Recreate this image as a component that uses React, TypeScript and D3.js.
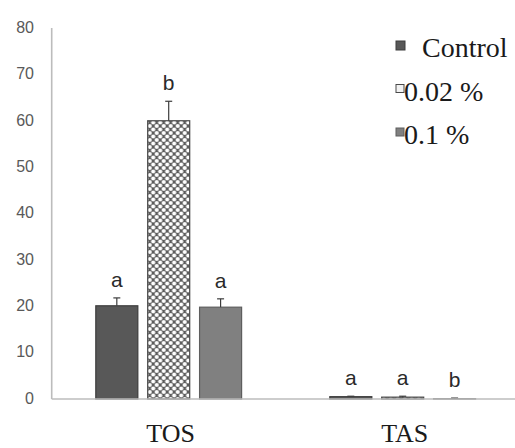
import * as d3 from 'd3';

const categories = ['TOS', 'TAS'];
const series = ['Control', '0.02 %', '0.1 %'];
const tosValues = [20.1, 60.0, 19.8];
const tosErrors = [1.7, 4.2, 1.8];
const tasValues = [0.5, 0.4, 0.05];
const tasErrors = [0.1, 0.2, 0.15];
const tosLetters = ['a', 'b', 'a'];
const tasLetters = ['a', 'a', 'b'];
const yTicks = [0, 10, 20, 30, 40, 50, 60, 70, 80];

const W = 515;
const H = 448;

const fills = ['#585858', 'url(#hatch)', '#808080'];
const strokes = ['#3c3c3c', '#4a4a4a', '#5e5e5e'];

const css = `
  .rm { font-family: 'Liberation Serif'; fill: #1a1a1a; }
  .ar { font-family: 'Liberation Sans'; }
`;

export default function App() {
  const y = d3.scaleLinear().domain([0, 80]).range([399, 28]);
  const x0 = d3.scaleBand<string>().domain(categories).range([51.7, 519.7]).padding(0);
  const x1 = d3.scaleBand<string>()
    .domain(series)
    .range([0, x0.bandwidth()])
    .paddingInner(0.19)
    .paddingOuter(0.85);

  const groups = [
    { cat: 'TOS', values: tosValues, errors: tosErrors, letters: tosLetters },
    { cat: 'TAS', values: tasValues, errors: tasErrors, letters: tasLetters },
  ];

  return (
    <div style={{ position: 'fixed', top: 0, left: 0 }}>
      <svg width={W} height={H} style={{ display: 'block', background: '#fff' }}>
        <style>{css}</style>
        <defs>
          <pattern id="hatch" patternUnits="userSpaceOnUse" width={7} height={7}>
            <rect width={7} height={7} fill="#5c5c5c" />
            <circle cx={0} cy={0} r={2.1} fill="#fff" />
            <circle cx={7} cy={0} r={2.1} fill="#fff" />
            <circle cx={0} cy={7} r={2.1} fill="#fff" />
            <circle cx={7} cy={7} r={2.1} fill="#fff" />
            <circle cx={3.5} cy={3.5} r={2.1} fill="#fff" />
          </pattern>
        </defs>

        {/* y axis ticks */}
        {yTicks.map((t) => (
          <text
            key={t}
            className="ar"
            x={34}
            y={y(t)}
            dy="0.3em"
            textAnchor="end"
            fontSize={16}
            fill="#595959"
          >
            {t}
          </text>
        ))}
        <line x1={51.7} x2={51.7} y1={y(80)} y2={y(0)} stroke="#bcbcbc" strokeWidth={1.6} />

        {/* bars */}
        {groups.map((g) => (
          <g key={g.cat} transform={`translate(${x0(g.cat)},0)`}>
            {series.map((s, i) => {
              const bx = x1(s) ?? 0;
              const bw = x1.bandwidth();
              const top = y(g.values[i]);
              const errTop = y(g.values[i] + g.errors[i]);
              const cx = bx + bw / 2;
              return (
                <g key={s}>
                  <rect
                    x={bx}
                    y={top}
                    width={bw}
                    height={y(0) - top}
                    fill={fills[i]}
                    stroke={strokes[i]}
                    strokeWidth={1.2}
                  />
                  <line x1={cx} x2={cx} y1={top} y2={errTop} stroke="#3c3c3c" strokeWidth={1.2} />
                  <line x1={cx - 3.5} x2={cx + 3.5} y1={errTop} y2={errTop} stroke="#3c3c3c" strokeWidth={1.2} />
                  <text
                    className="ar"
                    x={cx}
                    y={errTop - 11}
                    textAnchor="middle"
                    fontSize={21}
                    fill="#2a2a2a"
                  >
                    {g.letters[i]}
                  </text>
                </g>
              );
            })}
          </g>
        ))}

        <line x1={51.7} x2={W} y1={y(0)} y2={y(0)} stroke="#bcbcbc" strokeWidth={1.6} />

        {/* category labels */}
        {categories.map((c) => (
          <text
            key={c}
            className="rm"
            x={(x0(c) ?? 0) + x0.bandwidth() / 2 + 2}
            y={442}
            textAnchor="middle"
            fontSize={26}
          >
            {c}
          </text>
        ))}

        {/* legend */}
        {series.map((s, i) => {
          const base = 57 + i * 43.5;
          return (
            <g key={s}>
              <rect
                x={396}
                y={base - 16}
                width={i === 0 ? 9 : 8}
                height={i === 0 ? 9 : 8}
                fill={i === 1 ? '#f2f2f2' : fills[i]}
                stroke={strokes[i]}
                strokeWidth={1}
              />
              <text className="rm" x={i === 0 ? 422 : 404} y={base} fontSize={28}>
                {s}
              </text>
            </g>
          );
        })}
      </svg>
    </div>
  );
}
